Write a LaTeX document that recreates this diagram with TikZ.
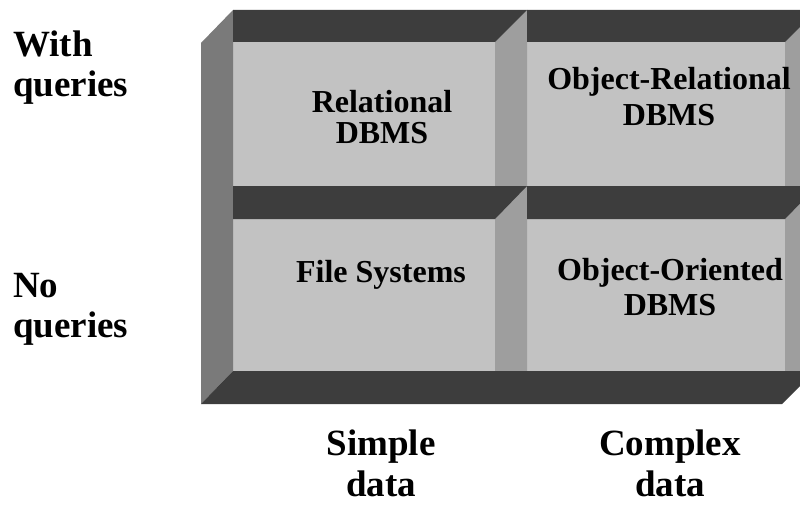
\documentclass[tikz,border=0pt]{standalone}
\usepackage{fontspec}
\setmainfont{Liberation Serif}
\definecolor{facegray}{gray}{0.76}
\definecolor{bandgray}{gray}{0.24}
\definecolor{sidegray}{gray}{0.48}
\definecolor{stripgray}{gray}{0.62}
\begin{document}
\begin{tikzpicture}[x=1pt,y=-1pt,
  rowlbl/.style={font=\fontsize{37}{37}\selectfont\bfseries, anchor=base west, inner sep=0pt},
  celltxt/.style={font=\fontsize{32}{32}\selectfont\bfseries, anchor=base, inner sep=0pt},
  collbl/.style={font=\fontsize{37}{37}\selectfont\bfseries, anchor=base, inner sep=0pt}]
\useasboundingbox[fill=white] (0,0) rectangle (800,508);
\begin{scope}
\clip (0,0) rectangle (800,508);
% faces
\fill[facegray] (233,42) rectangle (817,371);
% left bevel
\fill[sidegray] (201,43) -- (233,10) -- (233,371) -- (201,404) -- cycle;
% strips between columns / right
\fill[stripgray] (495,42) -- (527,10) -- (527,371) -- (495,371) -- cycle;
\fill[stripgray] (785,42) -- (817,10) -- (817,371) -- (785,371) -- cycle;
% top bands row 1
\fill[bandgray] (233,10) -- (527,10) -- (495,42) -- (233,42) -- cycle;
\fill[bandgray] (527,10) -- (817,10) -- (785,42) -- (527,42) -- cycle;
% top bands row 2
\fill[bandgray] (233,186) -- (527,186) -- (495,219) -- (233,219) -- cycle;
\fill[bandgray] (527,186) -- (817,186) -- (785,219) -- (527,219) -- cycle;
% bottom band
\fill[bandgray] (201,404) -- (233,371) -- (800,371) -- (800,386) -- (782,404) -- cycle;
\end{scope}
% cell texts
\node[celltxt] (rel1) at (382,113) {Relational};
\node[celltxt] (rel2) at (382,143) {DBMS};
\node[celltxt] (orel1) at (669,90) {Object-Relational};
\node[celltxt] (orel2) at (669,125) {DBMS};
\node[celltxt] (fs) at (381,282) {File Systems};
\node[celltxt] (oo1) at (670,280) {Object-Oriented};
\node[celltxt] (oo2) at (670,315) {DBMS};
% row labels
\node[rowlbl] (wq1) at (13,57) {With};
\node[rowlbl] (wq2) at (13,97) {queries};
\node[rowlbl] (nq1) at (13,297) {No};
\node[rowlbl] (nq2) at (13,337) {queries};
% column labels
\node[collbl] (sd1) at (381,455) {Simple};
\node[collbl] (sd2) at (381,496) {data};
\node[collbl] (cd1) at (670,455) {Complex};
\node[collbl] (cd2) at (670,496) {data};
\end{tikzpicture}
\end{document}
